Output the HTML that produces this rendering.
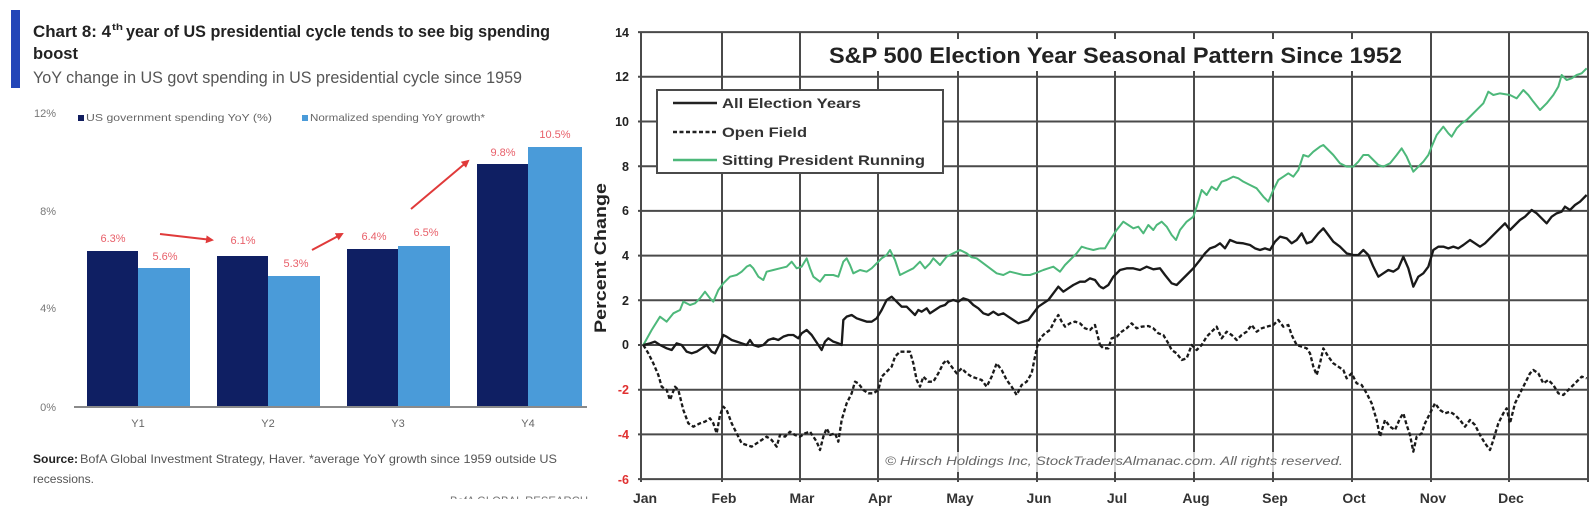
<!DOCTYPE html>
<html><head><meta charset="utf-8"><style>
html,body{margin:0;padding:0;background:#fff;}
svg{display:block;}
</style></head><body>
<svg width="1596" height="518" viewBox="0 0 1596 518" xmlns="http://www.w3.org/2000/svg" font-family="'Liberation Sans', Arial, sans-serif">
<defs>
<marker id="ah" markerWidth="8" markerHeight="8" refX="6" refY="4" orient="auto" markerUnits="userSpaceOnUse">
<path d="M0,0 L8,4 L0,8 z" fill="#e03a3a"/>
</marker>
</defs>
<rect x="0" y="0" width="1596" height="518" fill="#fff"/>

<!-- LEFT CHART -->
<rect x="11" y="10" width="9" height="78" fill="#2346b8"/>
<text x="33" y="37" font-size="17" font-weight="bold" fill="#222" textLength="78" lengthAdjust="spacingAndGlyphs">Chart 8: 4</text>
<text x="112" y="30" font-size="9" font-weight="bold" fill="#222" textLength="11" lengthAdjust="spacingAndGlyphs">th</text>
<text x="126" y="37" font-size="17" font-weight="bold" fill="#222" textLength="424" lengthAdjust="spacingAndGlyphs">year of US presidential cycle tends to see big spending</text>
<text x="33" y="59" font-size="17" font-weight="bold" fill="#222" textLength="45" lengthAdjust="spacingAndGlyphs">boost</text>
<text x="33" y="83" font-size="17" fill="#555" textLength="489" lengthAdjust="spacingAndGlyphs">YoY change in US govt spending in US presidential cycle since 1959</text>

<g font-size="11" fill="#777" text-anchor="end">
<text x="56" y="117">12%</text>
<text x="56" y="215">8%</text>
<text x="56" y="312">4%</text>
<text x="56" y="411">0%</text>
</g>
<rect x="78" y="115" width="6" height="6" fill="#111d5e"/>
<text x="86" y="121" font-size="10.5" fill="#666" textLength="186" lengthAdjust="spacingAndGlyphs">US government spending YoY (%)</text>
<rect x="302" y="115" width="6" height="6" fill="#4a9bd9"/>
<text x="310" y="121" font-size="10.5" fill="#666" textLength="175" lengthAdjust="spacingAndGlyphs">Normalized spending YoY growth*</text>

<g fill="#0f1f63">
<rect x="87" y="251" width="51" height="156"/>
<rect x="217" y="256" width="51" height="151"/>
<rect x="347" y="249" width="51" height="158"/>
<rect x="477" y="164" width="51" height="243"/>
</g>
<g fill="#4a9bd9">
<rect x="138" y="268" width="52" height="139"/>
<rect x="268" y="276" width="52" height="131"/>
<rect x="398" y="246" width="52" height="161"/>
<rect x="528" y="147" width="54" height="260"/>
</g>
<line x1="74" y1="407" x2="587" y2="407" stroke="#8a8a8a" stroke-width="2"/>

<g font-size="11" fill="#e8606a" text-anchor="middle">
<text x="113" y="242">6.3%</text>
<text x="165" y="260">5.6%</text>
<text x="243" y="244">6.1%</text>
<text x="296" y="267">5.3%</text>
<text x="374" y="240">6.4%</text>
<text x="426" y="236">6.5%</text>
<text x="503" y="156">9.8%</text>
<text x="555" y="138">10.5%</text>
</g>
<g stroke="#e03a3a" stroke-width="2" fill="none" marker-end="url(#ah)">
<line x1="160" y1="234" x2="212" y2="240"/>
<line x1="312" y1="250" x2="342" y2="234"/>
<line x1="411" y1="209" x2="468" y2="161"/>
</g>

<g font-size="11" fill="#666" text-anchor="middle">
<text x="138" y="427">Y1</text>
<text x="268" y="427">Y2</text>
<text x="398" y="427">Y3</text>
<text x="528" y="427">Y4</text>
</g>
<text x="33" y="463" font-size="12" font-weight="bold" fill="#222" textLength="45" lengthAdjust="spacingAndGlyphs">Source:</text>
<text x="80" y="463" font-size="12" fill="#555" textLength="477" lengthAdjust="spacingAndGlyphs">BofA Global Investment Strategy, Haver. *average YoY growth since 1959 outside US</text>
<text x="33" y="483" font-size="12" fill="#555" textLength="61" lengthAdjust="spacingAndGlyphs">recessions.</text>
<text x="450" y="505" font-size="12" fill="#777" textLength="138" lengthAdjust="spacingAndGlyphs">BofA GLOBAL RESEARCH</text>
<rect x="440" y="499" width="160" height="20" fill="#fff"/>

<!-- RIGHT CHART -->
<g stroke="#4a4a4a" stroke-width="2" fill="none">
<line x1="638" y1="32.1" x2="1588" y2="32.1"/>
<line x1="638" y1="76.8" x2="1588" y2="76.8"/>
<line x1="638" y1="121.5" x2="1588" y2="121.5"/>
<line x1="638" y1="166.2" x2="1588" y2="166.2"/>
<line x1="638" y1="210.9" x2="1588" y2="210.9"/>
<line x1="638" y1="255.6" x2="1588" y2="255.6"/>
<line x1="638" y1="300.3" x2="1588" y2="300.3"/>
<line x1="638" y1="345" x2="1588" y2="345"/>
<line x1="638" y1="389.7" x2="1588" y2="389.7"/>
<line x1="638" y1="434.4" x2="1588" y2="434.4"/>
<line x1="638" y1="479.1" x2="1588" y2="479.1"/>
<line x1="641" y1="32" x2="641" y2="482"/>
<line x1="722" y1="32" x2="722" y2="482"/>
<line x1="800" y1="32" x2="800" y2="482"/>
<line x1="878" y1="32" x2="878" y2="482"/>
<line x1="958" y1="32" x2="958" y2="482"/>
<line x1="1037" y1="32" x2="1037" y2="482"/>
<line x1="1115" y1="32" x2="1115" y2="482"/>
<line x1="1194" y1="32" x2="1194" y2="482"/>
<line x1="1273" y1="32" x2="1273" y2="482"/>
<line x1="1352" y1="32" x2="1352" y2="482"/>
<line x1="1431" y1="32" x2="1431" y2="482"/>
<line x1="1509" y1="32" x2="1509" y2="482"/>
<line x1="1588" y1="32" x2="1588" y2="482"/>
</g>

<!-- title -->
<rect x="822" y="39" width="588" height="32" fill="#fff"/>
<text x="829" y="63" font-size="22" font-weight="bold" fill="#222" textLength="573" lengthAdjust="spacingAndGlyphs">S&amp;P 500 Election Year Seasonal Pattern Since 1952</text>

<!-- copyright -->
<rect x="880" y="452" width="468" height="20" fill="#fff" opacity="0.75"/>
<text x="885" y="465" font-size="12" font-style="italic" fill="#666" textLength="458" lengthAdjust="spacingAndGlyphs">© Hirsch Holdings Inc, StockTradersAlmanac.com.  All rights reserved.</text>

<!-- series: part 1 (zoom coords) -->
<g transform="translate(580,20) scale(0.33333)" fill="none" stroke-linejoin="round">
<polyline stroke="#4db87a" stroke-width="6" points="190,975 215,930 240,890 260,905 280,880 300,870 310,845 330,855 345,850 360,835 375,815 390,835 400,845 415,810 430,790 450,770 470,765 485,755 500,740 510,735 520,745 535,770 550,780 560,755 580,750 600,745 620,740 635,725 650,745 665,740 680,715 690,745 700,770 720,785 735,765 760,765 775,770 790,725 800,715 810,735 820,760 840,750 860,755 875,745 890,730 905,715 920,705 930,690 945,720 960,765 980,755 1000,745 1020,725 1035,745 1050,730 1060,715 1080,735 1100,710 1120,700 1140,690 1160,700 1175,712 1190,715 1210,730 1230,745 1250,760 1270,765 1290,755 1310,760 1330,765 1350,765 1370,758 1390,750 1405,745 1420,740 1440,755 1455,735 1470,720 1490,700 1505,680 1520,685 1540,690 1560,685"/>
<polyline stroke="#1a1a1a" stroke-width="7" points="190,975 210,970 225,965 240,975 260,985 275,990 290,970 305,975 320,995 335,1000 350,995 365,985 380,975 395,995 405,1000 415,980 430,945 440,950 455,960 470,965 485,970 500,975 510,960 520,975 535,980 550,975 565,960 580,955 595,960 610,950 625,945 640,945 655,955 665,940 680,930 695,945 705,960 715,975 725,990 735,965 745,955 760,965 775,970 785,975 790,900 800,890 815,885 830,895 845,900 860,905 875,905 890,895 905,870 920,840 935,830 950,845 965,860 980,860 995,875 1005,885 1015,870 1025,875 1040,865 1050,880 1065,870 1080,860 1095,855 1105,845 1120,840 1135,845 1150,835 1165,840 1180,855 1195,865 1210,880 1225,885 1240,875 1255,885 1270,880 1285,890 1300,900 1315,910 1330,905 1345,900 1360,880 1375,860 1390,850 1405,840 1420,820 1435,800 1450,815 1465,805 1480,795 1500,785 1515,785 1530,775 1545,780 1560,800"/>
<polyline stroke="#1a1a1a" stroke-width="7" stroke-dasharray="12 7" points="190,975 205,1000 220,1030 235,1065 245,1100 260,1110 270,1140 285,1100 295,1110 310,1170 325,1210 340,1220 360,1210 375,1205 390,1195 400,1210 410,1240 420,1185 430,1160 440,1170 455,1210 470,1240 485,1270 500,1275 515,1280 530,1270 545,1260 560,1250 575,1260 590,1280 600,1245 615,1250 630,1235 645,1245 660,1250 675,1240 690,1235 700,1250 710,1265 720,1290 730,1250 740,1225 750,1245 765,1240 775,1265 785,1200 800,1150 815,1120 825,1085 835,1090 850,1110 865,1120 880,1120 895,1110 905,1070 920,1055 935,1040 945,1010 960,995 975,995 990,995 1000,1030 1010,1080 1020,1100 1030,1070 1045,1085 1060,1085 1075,1060 1090,1030 1100,1020 1115,1040 1130,1060 1145,1045 1160,1060 1175,1070 1190,1075 1205,1080 1220,1100 1235,1070 1250,1030 1265,1050 1280,1080 1295,1100 1310,1125 1325,1095 1340,1085 1355,1060 1365,1010 1375,965 1385,950 1395,940 1410,930 1425,900 1435,885 1445,905 1455,920 1470,910 1485,905 1500,910 1515,925 1530,930 1545,915 1555,955 1560,975"/>
</g>
<!-- series: part 2 -->
<g transform="translate(1090,20) scale(0.33333)" fill="none" stroke-linejoin="round">
<polyline stroke="#4db87a" stroke-width="6" points="30,685 45,685 60,660 80,630 100,605 115,615 130,625 145,620 160,640 175,615 190,630 200,615 215,605 230,620 245,645 258,660 270,630 290,605 310,590 320,560 335,510 350,525 365,500 380,510 395,485 410,480 430,470 445,475 460,485 480,495 500,505 520,530 535,545 550,510 565,480 580,470 595,460 610,470 625,450 640,405 655,410 670,395 690,380 700,375 715,390 730,405 750,430 770,440 790,440 805,425 820,405 835,405 850,420 865,435 880,440 900,430 920,405 935,385 950,410 970,455 985,440 1000,425 1015,405 1025,380 1040,345 1060,320 1075,340 1085,350 1100,325 1115,310 1130,300 1145,285 1165,265 1180,250 1195,215 1210,225 1230,220 1260,225 1280,235 1300,210 1315,225 1330,245 1350,270 1370,250 1390,225 1405,200 1415,165 1430,180 1445,175 1460,165 1475,160 1490,145"/>
<polyline stroke="#1a1a1a" stroke-width="7" points="30,800 40,805 55,795 70,770 90,750 110,745 130,745 150,750 170,740 190,748 210,745 225,765 245,790 260,795 275,780 290,765 310,745 330,720 345,700 360,685 375,680 390,670 405,685 420,660 440,668 460,670 480,675 495,685 510,690 525,685 540,690 555,665 570,650 590,655 605,670 620,660 635,640 650,670 665,665 685,640 700,625 715,645 730,665 750,680 770,700 790,705 805,705 820,690 835,705 850,740 865,770 880,760 895,750 910,755 925,745 940,710 955,745 970,800 985,770 1000,760 1015,740 1030,690 1045,680 1060,680 1075,685 1090,680 1105,685 1120,675 1140,660 1155,670 1170,680 1185,670 1200,655 1215,640 1230,625 1245,610 1260,630 1275,615 1290,600 1305,590 1325,570 1340,580 1355,595 1370,610 1385,590 1400,580 1415,575 1425,560 1440,570 1455,555 1470,545 1490,525"/>
<polyline stroke="#1a1a1a" stroke-width="7" stroke-dasharray="12 7" points="30,975 40,985 55,985 65,955 80,950 95,935 110,925 125,910 140,925 155,920 175,918 190,925 205,940 220,945 235,970 245,990 260,1000 275,1020 290,1015 305,975 320,990 335,975 350,950 365,935 380,920 395,955 410,935 425,945 440,960 455,945 470,935 485,915 500,935 515,925 530,920 550,915 565,900 580,920 595,915 605,945 620,975 635,980 650,985 660,1000 670,1040 680,1065 690,1030 700,985 715,1010 730,1030 745,1040 760,1050 770,1075 785,1060 800,1090 815,1095 830,1120 845,1150 860,1200 870,1250 885,1200 900,1220 915,1230 930,1195 940,1180 950,1215 960,1245 970,1295 980,1250 995,1240 1005,1210 1020,1180 1035,1150 1050,1170 1065,1180 1080,1175 1095,1185 1110,1200 1125,1220 1140,1200 1155,1215 1170,1245 1185,1270 1200,1290 1210,1260 1225,1210 1240,1180 1250,1165 1260,1210 1275,1150 1290,1120 1305,1090 1320,1060 1330,1050 1345,1060 1360,1090 1375,1080 1390,1095 1405,1120 1420,1125 1435,1110 1450,1095 1465,1080 1475,1070 1490,1075"/>
</g>

<!-- legend -->
<rect x="657" y="90" width="286" height="83" fill="#fff" stroke="#4a4a4a" stroke-width="2"/>
<line x1="673" y1="103" x2="717" y2="103" stroke="#222" stroke-width="2.5"/>
<line x1="673" y1="132" x2="717" y2="132" stroke="#222" stroke-width="2.5" stroke-dasharray="4 2.5"/>
<line x1="673" y1="160" x2="717" y2="160" stroke="#4db87a" stroke-width="2.5"/>
<g font-size="14" font-weight="bold" fill="#333">
<text x="722" y="108" textLength="139" lengthAdjust="spacingAndGlyphs">All Election Years</text>
<text x="722" y="137" textLength="85" lengthAdjust="spacingAndGlyphs">Open Field</text>
<text x="722" y="165" textLength="203" lengthAdjust="spacingAndGlyphs">Sitting President Running</text>
</g>

<!-- y axis labels -->
<g font-size="12.5" font-weight="bold" text-anchor="end">
<text x="629" y="37" fill="#222">14</text>
<text x="629" y="81" fill="#222">12</text>
<text x="629" y="126" fill="#222">10</text>
<text x="629" y="171" fill="#222">8</text>
<text x="629" y="215" fill="#222">6</text>
<text x="629" y="260" fill="#222">4</text>
<text x="629" y="305" fill="#222">2</text>
<text x="629" y="349" fill="#222">0</text>
<text x="629" y="394" fill="#e03030">-2</text>
<text x="629" y="439" fill="#e03030">-4</text>
<text x="629" y="484" fill="#e03030">-6</text>
</g>
<text transform="translate(606,258) rotate(-90)" text-anchor="middle" font-size="17" font-weight="bold" fill="#222" textLength="150" lengthAdjust="spacingAndGlyphs">Percent Change</text>

<!-- month labels -->
<g font-size="14" font-weight="bold" fill="#333" text-anchor="middle">
<text x="645" y="503">Jan</text>
<text x="724" y="503">Feb</text>
<text x="802" y="503">Mar</text>
<text x="880" y="503">Apr</text>
<text x="960" y="503">May</text>
<text x="1039" y="503">Jun</text>
<text x="1117" y="503">Jul</text>
<text x="1196" y="503">Aug</text>
<text x="1275" y="503">Sep</text>
<text x="1354" y="503">Oct</text>
<text x="1433" y="503">Nov</text>
<text x="1511" y="503">Dec</text>
</g>
</svg>
</body></html>
